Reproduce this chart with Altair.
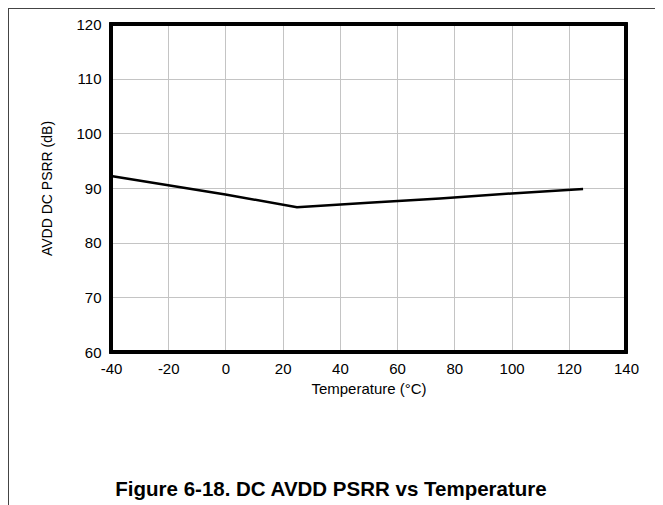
import altair as alt
import pandas as pd

temps = [-40, -20, 0, 25, 50, 75, 100, 125]
psrr = [92.2, 90.5, 88.8, 86.5, 87.3, 88.1, 89.0, 89.8]
x_ticks = [-40, -20, 0, 20, 40, 60, 80, 100, 120, 140]
y_ticks = [60, 70, 80, 90, 100, 110, 120]
caption = "Figure 6-18. DC AVDD PSRR vs Temperature"

df = pd.DataFrame({"t": temps, "p": psrr})
FONT = "Liberation Sans"

line = alt.Chart(df).mark_line(color="black", strokeWidth=2.5).encode(
    x=alt.X("t:Q", scale=alt.Scale(domain=[-40, 140], nice=False),
            axis=alt.Axis(values=x_ticks, title="Temperature (°C)", labelFlush=False,
                          labelExpr="'' + datum.value",
                          ticks=False, domain=False, labelPadding=9, titlePadding=5,
                          labelFontSize=15, titleFontSize=15, labelColor="black",
                          titleColor="black", titleFontWeight="normal",
                          gridColor="#c4c4c4", labelFont=FONT, titleFont=FONT)),
    y=alt.Y("p:Q", scale=alt.Scale(domain=[60, 120], nice=False),
            axis=alt.Axis(values=y_ticks, title="AVDD DC PSRR (dB)", ticks=False,
                          domain=False, labelPadding=10, titlePadding=21,
                          labelFontSize=15, titleFontSize=14, labelColor="black",
                          titleColor="black", titleFontWeight="normal",
                          gridColor="#c4c4c4", labelFont=FONT, titleFont=FONT)),
)

border = alt.Chart(df).mark_rect(fill=None, stroke="black", strokeWidth=3).encode(
    x=alt.value(0), x2=alt.value(515), y=alt.value(0), y2=alt.value(328)
)
top_rule = alt.Chart(df).mark_rule(color="#444", strokeWidth=1).encode(
    x=alt.value(-103), x2=alt.value(560), y=alt.value(-16)
)
left_rule = alt.Chart(df).mark_rule(color="#444", strokeWidth=1).encode(
    x=alt.value(-103), y=alt.value(-16), y2=alt.value(500)
)
cap = alt.Chart(pd.DataFrame({"c": [caption]})).mark_text(
    fontWeight="bold", fontSize=20.5, font=FONT, color="black", baseline="middle"
).encode(text="c:N", x=alt.value(220), y=alt.value(466))

chart = alt.layer(line, border, top_rule, left_rule, cap).properties(
    width=515, height=328, padding={"left": 103, "top": 16, "right": 29, "bottom": 155},
    autosize=alt.AutoSizeParams(type="none"),
).configure_view(stroke=None)

chart.save("out.html", embed_options={"renderer": "svg", "actions": False})
